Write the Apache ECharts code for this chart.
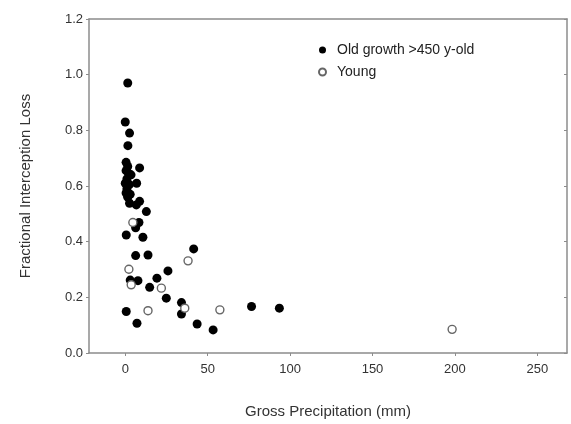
<!DOCTYPE html>
<html><head><meta charset="utf-8">
<script src="https://cdn.jsdelivr.net/npm/echarts@6/dist/echarts.min.js"></script>
<style>html,body{margin:0;padding:0;background:#fff}#c{width:571px;height:424px}</style>
</head><body><div id="c"></div>
<script>
const xTicks = [0, 50, 100, 150, 200, 250];
const yTicks = [0, 0.2, 0.4, 0.6, 0.8, 1.0, 1.2];
const oldX = [1.5, 0, 2.6, 1.6, 0.5, 1.5, 8.7, 0.5, 2, 3.5, 1, 0, 2.5, 6.9, 1, 0.5, 3, 1.5, 8.7, 2.6, 6.7, 12.8, 8.3, 6.3, 0.6, 10.7, 41.5, 6.3, 13.8, 25.9, 3.0, 7.7, 19.2, 14.8, 24.9, 34.1, 34.1, 0.6, 76.6, 93.5, 7.1, 43.6, 53.3];
const oldY = [0.97, 0.83, 0.79, 0.745, 0.685, 0.67, 0.665, 0.655, 0.645, 0.64, 0.625, 0.61, 0.605, 0.61, 0.59, 0.575, 0.57, 0.56, 0.545, 0.538, 0.532, 0.508, 0.469, 0.45, 0.424, 0.416, 0.374, 0.35, 0.352, 0.295, 0.262, 0.26, 0.269, 0.236, 0.197, 0.181, 0.14, 0.149, 0.167, 0.161, 0.107, 0.104, 0.083];
const youngX = [4.6, 38.1, 2.2, 3.6, 21.9, 36.1, 13.8, 57.4, 198.3];
const youngY = [0.469, 0.331, 0.301, 0.245, 0.233, 0.161, 0.152, 0.155, 0.085];

const oldData = oldX.map((x, i) => [x, oldY[i]]);
const youngData = youngX.map((x, i) => [x, youngY[i]]);
const axisCol = '#8c8c8c';
const font = 'Liberation Sans, Arial, sans-serif';

const chart = echarts.init(document.getElementById('c'), null, {renderer: 'canvas'});
chart.setOption({
  animation: false,
  backgroundColor: '#fff',
  grid: {left: 89, right: 4, top: 19, bottom: 71},
  legend: {
    orient: 'vertical', left: 313, top: 38, itemGap: 8,
    itemWidth: 7, itemHeight: 7,
    textStyle: {fontFamily: font, fontSize: 14, color: '#222', padding: [0,0,0,6]},
    data: [
      {name: 'Old growth >450 y-old', icon: 'circle'},
      {name: 'Young', icon: 'circle'}
    ]
  },
  xAxis: [{
    type: 'value', min: -22, max: 268,
    name: 'Gross Precipitation (mm)', nameLocation: 'middle', nameGap: 51,
    nameTextStyle: {fontFamily: font, fontSize: 15, color: '#333'},
    splitLine: {show: false},
    axisLine: {show: true, onZero: false, lineStyle: {color: axisCol, width: 1.5}},
    axisTick: {show: true, length: 3, customValues: xTicks, lineStyle: {color: axisCol}},
    axisLabel: {customValues: xTicks, margin: 10, fontFamily: font, fontSize: 13, color: '#333'}
  }, {
    type: 'value', position: 'top', min: -22, max: 268,
    splitLine: {show: false},
    axisLine: {show: true, onZero: false, lineStyle: {color: axisCol, width: 1.5}},
    axisTick: {show: false}, axisLabel: {show: false}
  }],
  yAxis: [{
    type: 'value', min: 0, max: 1.2, interval: 0.2,
    name: 'Fractional Interception Loss', nameLocation: 'middle', nameGap: 56,
    nameTextStyle: {fontFamily: font, fontSize: 15, color: '#333'},
    splitLine: {show: false},
    axisLine: {show: true, onZero: false, lineStyle: {color: axisCol, width: 1.5}},
    axisTick: {show: true, length: 3, lineStyle: {color: axisCol}},
    axisLabel: {margin: 6, fontFamily: font, fontSize: 13, color: '#333', formatter: v => v.toFixed(1)}
  }, {
    type: 'value', position: 'right', min: 0, max: 1.2, interval: 0.2,
    splitLine: {show: false},
    axisLine: {show: true, onZero: false, lineStyle: {color: axisCol, width: 1.5}},
    axisTick: {show: true, inside: true, length: 3, lineStyle: {color: axisCol}},
    axisLabel: {show: false}
  }],
  series: [{
    name: 'Old growth >450 y-old', type: 'scatter', data: oldData,
    symbol: 'circle', symbolSize: 9,
    itemStyle: {color: '#000', opacity: 1}
  }, {
    name: 'Young', type: 'scatter', data: youngData,
    symbol: 'circle', symbolSize: 8,
    itemStyle: {color: '#fff', borderColor: '#666', borderWidth: 1.4, opacity: 1}
  }]
});
</script></body></html>
